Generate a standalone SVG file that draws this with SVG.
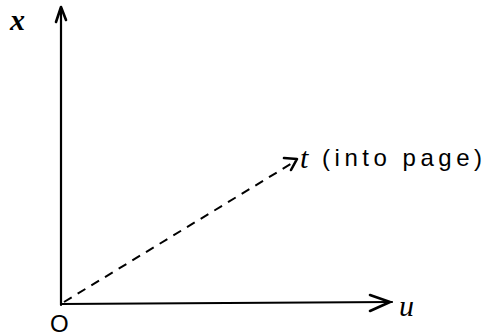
<svg xmlns="http://www.w3.org/2000/svg" width="490" height="336" viewBox="0 0 490 336">
<style>
.ax{stroke:#000;stroke-width:2.2;fill:none;stroke-linecap:round}
.ds{stroke:#000;stroke-width:2;fill:none;stroke-dasharray:9,7}
.hd{stroke:#000;stroke-width:2.6;fill:none;stroke-linecap:round;stroke-linejoin:round}
.lb{font-family:"Liberation Serif",serif;font-style:italic;font-size:30px;fill:#000}
.tx{font-family:"Liberation Sans",sans-serif;font-size:24px;fill:#000}
</style>
<rect width="490" height="336" fill="#fff"/>
<g id="connectors">
<line class="ax" x1="61" y1="305" x2="61" y2="8"/>
<path class="hd" d="M56 22 L61 7 L66 20"/>
<line class="ax" x1="61" y1="304" x2="392" y2="302"/>
<path class="hd" d="M370 295 L390 302 L370 311"/>
<line class="ds" x1="64" y1="302" x2="294" y2="162"/>
<path class="hd" d="M284 158 L297 159 L291 170"/>
</g>
<g id="x-label"><text class="lb" x="10" y="30" font-weight="bold">x</text></g>
<g id="t-label"><text class="lb" x="300" y="168">t</text><text class="tx" x="322" y="166" textLength="160" lengthAdjust="spacing">(into page)</text></g>
<g id="u-label"><text class="lb" x="399" y="316">u</text></g>
<g id="origin"><text class="tx" x="50" y="332">O</text></g>
</svg>
